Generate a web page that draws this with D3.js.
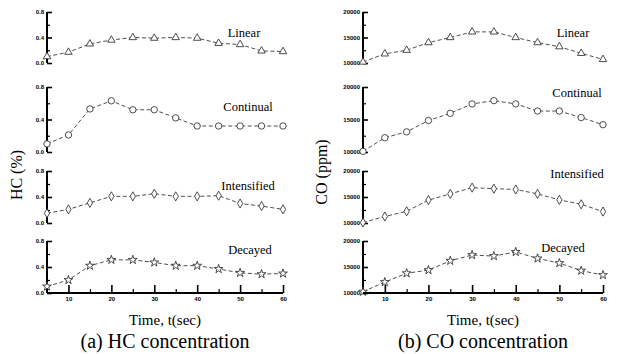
<!DOCTYPE html>
<html><head><meta charset="utf-8">
<script src="https://cdn.jsdelivr.net/npm/d3@7"></script>
<style>body{margin:0;background:#fff}svg{display:block}
.serif{font-family:'Liberation Serif','Times New Roman','DejaVu Serif',serif}
.tk text{font-family:'Liberation Sans',Arial,sans-serif;font-size:6px;font-weight:bold}
</style>
</head><body>
<svg id="c" width="619" height="354"></svg>
<script>
const times = [5,10,15,20,25,30,35,40,45,50,55,60];
const seriesNames = ["Linear","Continual","Intensified","Decayed"];
const hcLinear      = [0.10,0.17,0.30,0.36,0.40,0.39,0.40,0.39,0.31,0.29,0.19,0.18];
const hcContinual   = [0.10,0.21,0.53,0.63,0.52,0.52,0.42,0.32,0.32,0.32,0.32,0.32];
const hcIntensified = [0.15,0.21,0.31,0.41,0.41,0.45,0.41,0.41,0.42,0.30,0.26,0.21];
const hcDecayed     = [0.10,0.20,0.42,0.51,0.51,0.47,0.42,0.42,0.37,0.31,0.29,0.30];
const coLinear      = [10200,11800,12500,14000,15000,16100,16100,15000,14000,13200,11900,10700];
const coContinual   = [10100,12200,13100,14850,15950,17400,17900,17400,16300,16300,15300,14200];
const coIntensified = [10100,11250,12250,14400,15600,16800,16600,16450,15600,14450,13600,12200];
const coDecayed     = [10250,12100,13800,14400,16200,17300,17100,17900,16650,15750,14300,13450];
const hcTicks = [0,0.4,0.8], hcMinor = [0.2,0.6], hcTickLabels = ["0.0","0.4","0.8"];
const coTicks = [10000,15000,20000], coMinor = [12500,17500], coTickLabels = ["10000","15000","20000"];
const xTicks = [10,20,30,40,50,60], xMinor = [15,25,35,45,55];

const svg = d3.select("#c");
const rows = [[12,63],[87,152],[171,223],[241,293]];
const markers = [d3.symbolTriangle, d3.symbolCircle, d3.symbolDiamond, d3.symbolStar];

function panel(cfg){
  const x = d3.scaleLinear().domain([5,60]).range(cfg.xr);
  const g = svg.append("g");
  cfg.data.forEach((vals,i)=>{
    const y = d3.scaleLinear().domain(cfg.dom).range([rows[i][1], rows[i][0]]);
    const ax = g.append("g").attr("class","tk").attr("transform",`translate(${cfg.xr[0]},0)`)
      .call(d3.axisLeft(y).tickValues(cfg.ticks).tickSize(-5).tickPadding(3)
        .tickFormat((d,k)=>cfg.labels[k]));
    ax.attr("font-family",null).attr("font-size",null);
    ax.select(".domain").attr("stroke-width",2).attr("d",`M0,${rows[i][0]}V${rows[i][1]}`);
    ax.selectAll(".tick line").attr("stroke-width",1.6);
    const mx = g.append("g").attr("transform",`translate(${cfg.xr[0]},0)`)
      .call(d3.axisLeft(y).tickValues(cfg.minor).tickSize(-3).tickFormat(""));
    mx.select(".domain").remove();
    mx.selectAll(".tick line").attr("stroke-width",1.2);
    const line = d3.line().x((d,k)=>x(times[k])).y(d=>y(d));
    g.append("path").datum(vals).attr("d",line).attr("fill","none")
      .attr("stroke","#222").attr("stroke-width",0.8).attr("stroke-dasharray","4,2.5");
    g.selectAll(null).data(vals).enter().append("path")
      .attr("transform",(d,k)=>`translate(${x(times[k])},${y(d)})`)
      .attr("d",d3.symbol().type(markers[i]).size(i==1?32:24))
      .attr("fill","#fff").attr("stroke","#222").attr("stroke-width",0.8);
    g.append("text").attr("class","serif").attr("x",cfg.labX[i]).attr("y",cfg.labY[i]).attr("text-anchor","middle")
      .attr("font-size",12.5).text(seriesNames[i]);
  });
  const xa = g.append("g").attr("class","tk").attr("transform",`translate(0,${rows[3][1]})`)
    .call(d3.axisBottom(x).tickValues(xTicks).tickSize(-8).tickPadding(4));
  xa.attr("font-family",null).attr("font-size",null);
  xa.select(".domain").attr("stroke-width",2).attr("d",`M${cfg.xr[0]},0H${cfg.xr[1]}`);
  xa.selectAll(".tick line").attr("stroke-width",1.6);
  const xm = g.append("g").attr("transform",`translate(0,${rows[3][1]})`)
    .call(d3.axisBottom(x).tickValues(xMinor).tickSize(-4).tickFormat(""));
  xm.select(".domain").remove();
  xm.selectAll(".tick line").attr("stroke-width",1.2);
  const cx = (cfg.xr[0]+cfg.xr[1])/2;
  g.append("text").attr("class","serif").attr("x",cx).attr("y",325).attr("text-anchor","middle")
    .attr("font-size",15).text("Time, t(sec)");
  g.append("text").attr("class","serif").attr("x",cx).attr("y",348).attr("text-anchor","middle")
    .attr("font-size",20).text(cfg.title);
  g.append("text").attr("class","serif").attr("transform",`translate(${cfg.ylx},${cfg.yly}) rotate(-90)`).attr("text-anchor","middle")
    .attr("font-size",16).text(cfg.ylab);
}
panel({xr:[47,283], dom:[0,0.8], ticks:hcTicks, minor:hcMinor, labels:hcTickLabels,
  data:[hcLinear,hcContinual,hcIntensified,hcDecayed],
  labX:[244,248,248,250], labY:[37,111,190,254], title:"(a) HC concentration",
  ylab:"HC (%)", ylx:22, yly:175});
panel({xr:[363,603], dom:[10000,20000], ticks:coTicks, minor:coMinor, labels:coTickLabels,
  data:[coLinear,coContinual,coIntensified,coDecayed],
  labX:[573,577,577,563], labY:[37,97,178,252], title:"(b) CO concentration",
  ylab:"CO (ppm)", ylx:327, yly:172});
</script>
</body></html>
